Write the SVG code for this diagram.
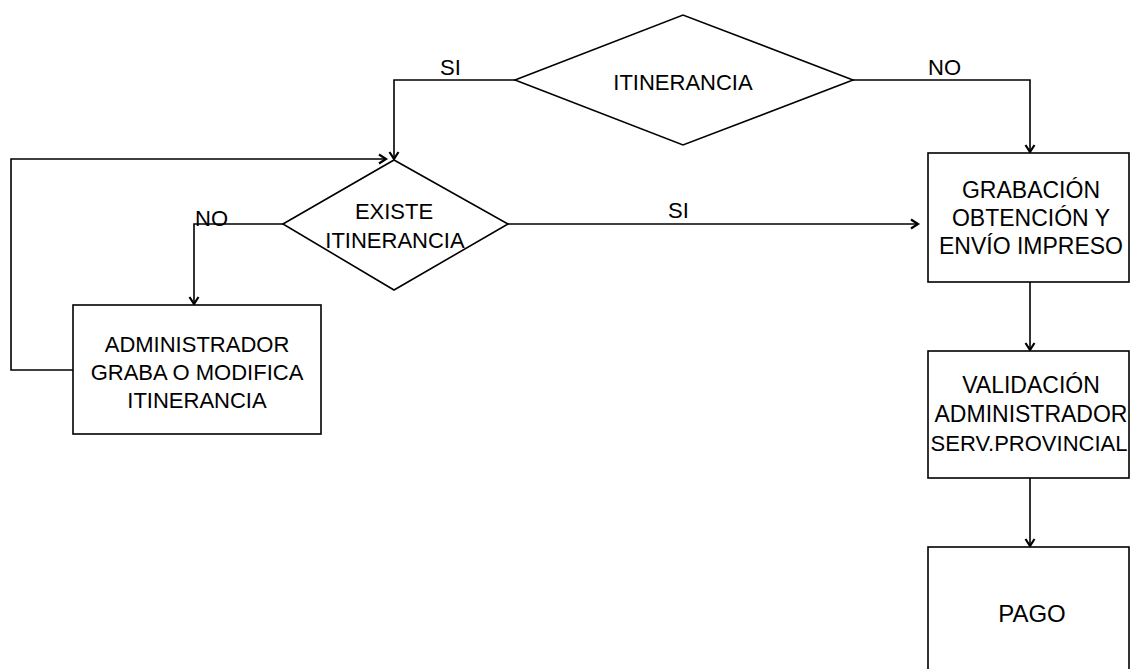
<svg xmlns="http://www.w3.org/2000/svg" width="1130" height="669" viewBox="0 0 1130 669">
<style>
.shape{fill:#fff;stroke:#000;stroke-width:1.6}
.conn{fill:none;stroke:#000;stroke-width:1.6}
text{font-family:"Liberation Sans",Arial,sans-serif;font-size:22px;fill:#000}
.c{text-anchor:middle}
.r{font-size:23px}
.p{font-size:24px}
</style>
<defs>
<marker id="arr" markerUnits="userSpaceOnUse" markerWidth="14" markerHeight="14" refX="10" refY="6" orient="auto">
<path d="M3,1.5 L10,6 L3,10.5" fill="none" stroke="#000" stroke-width="2.2"/>
</marker>
</defs>
<g id="connectors">
<polyline class="conn" points="515,80 394,80 394,159" marker-end="url(#arr)"/>
<polyline class="conn" points="853,80 1030,80 1030,152" marker-end="url(#arr)"/>
<polyline class="conn" points="283,224 194,224 194,304" marker-end="url(#arr)"/>
<polyline class="conn" points="73,370 11,370 11,159 386,159" marker-end="url(#arr)"/>
<polyline class="conn" points="508,224 918,224" marker-end="url(#arr)"/>
<polyline class="conn" points="1030,282 1030,350" marker-end="url(#arr)"/>
<polyline class="conn" points="1030,478 1030,546" marker-end="url(#arr)"/>
</g>
<g id="labels">
<text x="440" y="75">SI</text>
<text x="928" y="75">NO</text>
<text x="195" y="226">NO</text>
<text x="668" y="218">SI</text>
</g>
<g id="itinerancia">
<polygon class="shape" points="515,80 683,15 853,80 683,145"/>
<text class="c" x="683" y="90">ITINERANCIA</text>
</g>
<g id="existe">
<polygon class="shape" points="283,224 394,160 508,224 394,290"/>
<text class="c" x="394" y="219">EXISTE</text>
<text class="c" x="395" y="248">ITINERANCIA</text>
</g>
<g id="administrador">
<rect class="shape" x="73" y="305" width="248" height="129"/>
<text class="c" x="197" y="352">ADMINISTRADOR</text>
<text class="c" x="197" y="380">GRABA O MODIFICA</text>
<text class="c" x="197" y="408">ITINERANCIA</text>
</g>
<g id="grabacion">
<rect class="shape" x="928" y="153" width="201" height="129"/>
<text class="c r" x="1031" y="198">GRABACIÓN</text>
<text class="c r" x="1031" y="226">OBTENCIÓN Y</text>
<text class="c r" x="1031" y="254">ENVÍO IMPRESO</text>
</g>
<g id="validacion">
<rect class="shape" x="928" y="351" width="201" height="127"/>
<text class="c r" x="1031" y="393">VALIDACIÓN</text>
<text class="c r" x="1031" y="422">ADMINISTRADOR</text>
<text class="c" x="1029" y="451">SERV.PROVINCIAL</text>
</g>
<g id="pago">
<rect class="shape" x="928" y="547" width="201" height="140"/>
<text class="c p" x="1032" y="622">PAGO</text>
</g>
</svg>
